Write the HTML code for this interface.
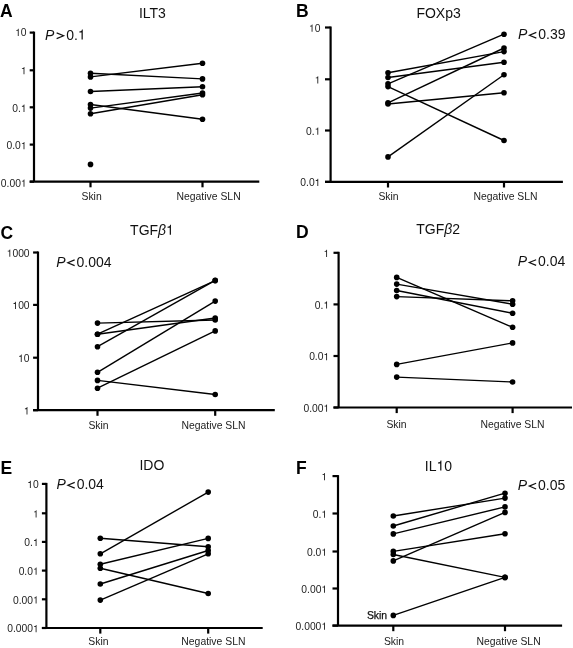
<!DOCTYPE html>
<html><head><meta charset="utf-8"><style>
html,body{margin:0;padding:0;background:#fff;}
body{width:573px;height:648px;overflow:hidden;}
svg{display:block;will-change:transform;}
text{font-family:"Liberation Sans", sans-serif;fill:#111;}
.lt{font-weight:bold;font-size:17.5px;fill:#000;}
.tt{font-size:14px;}
.pv{font-size:14px;}
.yl{font-size:10.3px;fill:#222;}
.xl{font-size:10.4px;fill:#222;}
.ax{stroke:#000;stroke-width:2.2;fill:none;}
.dl{stroke:#000;stroke-width:1.4;fill:none;}
circle{fill:#000;}
.h{fill-opacity:0;}
</style></head><body>
<svg width="573" height="648" viewBox="0 0 573 648">
<text x="0.0" y="16.8" class="lt">A</text>
<text x="152.4" y="17.7" class="tt" text-anchor="middle">ILT3</text>
<text x="45.0" y="39.5" class="pv"><tspan font-style="italic">P</tspan><tspan dx="1.2"><tspan class="h">&gt;</tspan></tspan><tspan dx="2.5">0.<tspan class="h">1</tspan></tspan></text>
<path d="M34.0 31.6V181.7" class="ax"/>
<path d="M29.7 181.7H259.3" class="ax"/>
<path d="M29.7 32.6H34.0" class="ax"/>
<text x="26.6" y="36.00" class="yl" text-anchor="end"><tspan class="h">1</tspan>0</text>
<path d="M29.7 70.3H34.0" class="ax"/>
<text x="26.6" y="74.20" class="yl" text-anchor="end"><tspan class="h">1</tspan></text>
<path d="M29.7 107.3H34.0" class="ax"/>
<text x="26.6" y="111.90" class="yl" text-anchor="end">0.<tspan class="h">1</tspan></text>
<path d="M29.7 144.6H34.0" class="ax"/>
<text x="26.6" y="149.30" class="yl" text-anchor="end">0.0<tspan class="h">1</tspan></text>
<path d="M29.7 181.7H34.0" class="ax"/>
<text x="26.6" y="186.80" class="yl" text-anchor="end">0.00<tspan class="h">1</tspan></text>
<path d="M90.5 181.7V187.29999999999998" class="ax"/>
<path d="M202.5 181.7V187.29999999999998" class="ax"/>
<text x="91.6" y="199.9" class="xl" text-anchor="middle">Skin</text>
<text x="208.6" y="199.9" class="xl" text-anchor="middle">Negative SLN</text>
<path d="M90.5 73.3L202.5 78.9" class="dl"/>
<path d="M90.5 76.9L202.5 63.3" class="dl"/>
<path d="M90.5 91.5L202.5 86.7" class="dl"/>
<path d="M90.5 104.5L202.5 119.3" class="dl"/>
<path d="M90.5 108.1L202.5 93.0" class="dl"/>
<path d="M90.5 113.8L202.5 94.8" class="dl"/>
<circle cx="90.5" cy="73.3" r="2.8"/>
<circle cx="202.5" cy="78.9" r="2.8"/>
<circle cx="90.5" cy="76.9" r="2.8"/>
<circle cx="202.5" cy="63.3" r="2.8"/>
<circle cx="90.5" cy="91.5" r="2.8"/>
<circle cx="202.5" cy="86.7" r="2.8"/>
<circle cx="90.5" cy="104.5" r="2.8"/>
<circle cx="202.5" cy="119.3" r="2.8"/>
<circle cx="90.5" cy="108.1" r="2.8"/>
<circle cx="202.5" cy="93.0" r="2.8"/>
<circle cx="90.5" cy="113.8" r="2.8"/>
<circle cx="202.5" cy="94.8" r="2.8"/>
<circle cx="90.5" cy="164.4" r="2.8"/>
<text x="296.0" y="17.0" class="lt">B</text>
<text x="438.6" y="17.9" class="tt" text-anchor="middle">FOXp3</text>
<text x="518.0" y="39.0" class="pv"><tspan font-style="italic">P</tspan><tspan dx="1.2"><tspan class="h">&lt;</tspan></tspan><tspan dx="1.5">0.39</tspan></text>
<path d="M330.6 26.5V181.9" class="ax"/>
<path d="M325.0 181.9H562.9" class="ax"/>
<path d="M325.0 27.5H330.6" class="ax"/>
<text x="320.4" y="31.70" class="yl" text-anchor="end"><tspan class="h">1</tspan>0</text>
<path d="M325.0 79.3H330.6" class="ax"/>
<text x="320.4" y="83.50" class="yl" text-anchor="end"><tspan class="h">1</tspan></text>
<path d="M325.0 130.5H330.6" class="ax"/>
<text x="320.4" y="134.70" class="yl" text-anchor="end">0.<tspan class="h">1</tspan></text>
<path d="M325.0 181.9H330.6" class="ax"/>
<text x="320.4" y="186.10" class="yl" text-anchor="end">0.0<tspan class="h">1</tspan></text>
<path d="M388.0 181.9V187.5" class="ax"/>
<path d="M504.0 181.9V187.5" class="ax"/>
<text x="388.5" y="199.9" class="xl" text-anchor="middle">Skin</text>
<text x="505.5" y="199.9" class="xl" text-anchor="middle">Negative SLN</text>
<path d="M388.0 72.7L504.0 51.6" class="dl"/>
<path d="M388.0 77.5L504.0 62.2" class="dl"/>
<path d="M388.0 83.8L504.0 34.2" class="dl"/>
<path d="M388.0 86.6L504.0 140.5" class="dl"/>
<path d="M388.0 102.8L504.0 48.0" class="dl"/>
<path d="M388.0 104.0L504.0 92.8" class="dl"/>
<path d="M388.0 156.9L504.0 74.7" class="dl"/>
<circle cx="388.0" cy="72.7" r="2.8"/>
<circle cx="504.0" cy="51.6" r="2.8"/>
<circle cx="388.0" cy="77.5" r="2.8"/>
<circle cx="504.0" cy="62.2" r="2.8"/>
<circle cx="388.0" cy="83.8" r="2.8"/>
<circle cx="504.0" cy="34.2" r="2.8"/>
<circle cx="388.0" cy="86.6" r="2.8"/>
<circle cx="504.0" cy="140.5" r="2.8"/>
<circle cx="388.0" cy="102.8" r="2.8"/>
<circle cx="504.0" cy="48.0" r="2.8"/>
<circle cx="388.0" cy="104.0" r="2.8"/>
<circle cx="504.0" cy="92.8" r="2.8"/>
<circle cx="388.0" cy="156.9" r="2.8"/>
<circle cx="504.0" cy="74.7" r="2.8"/>
<text x="0.5" y="238.7" class="lt">C</text>
<text x="152.0" y="234.7" class="tt" text-anchor="middle">TGF<tspan font-style="italic">β</tspan><tspan class="h">1</tspan></text>
<text x="56.3" y="266.5" class="pv"><tspan font-style="italic">P</tspan><tspan dx="1.2"><tspan class="h">&lt;</tspan></tspan><tspan dx="1.5">0.004</tspan></text>
<path d="M38.0 251.5V410.2" class="ax"/>
<path d="M33.1 410.2H274.8" class="ax"/>
<path d="M33.1 252.5H38.0" class="ax"/>
<text x="29.6" y="256.70" class="yl" text-anchor="end"><tspan class="h">1</tspan>000</text>
<path d="M33.1 304.9H38.0" class="ax"/>
<text x="29.6" y="309.10" class="yl" text-anchor="end"><tspan class="h">1</tspan>00</text>
<path d="M33.1 357.7H38.0" class="ax"/>
<text x="29.6" y="361.90" class="yl" text-anchor="end"><tspan class="h">1</tspan>0</text>
<path d="M33.1 410.2H38.0" class="ax"/>
<text x="29.6" y="414.40" class="yl" text-anchor="end"><tspan class="h">1</tspan></text>
<path d="M97.5 410.2V415.8" class="ax"/>
<path d="M215.2 410.2V415.8" class="ax"/>
<text x="98.5" y="428.6" class="xl" text-anchor="middle">Skin</text>
<text x="213.5" y="428.6" class="xl" text-anchor="middle">Negative SLN</text>
<path d="M97.5 323.1L215.2 320.0" class="dl"/>
<path d="M97.5 334.2L215.2 318.0" class="dl"/>
<path d="M97.5 334.2L215.2 280.6" class="dl"/>
<path d="M97.5 346.7L215.2 280.4" class="dl"/>
<path d="M97.5 372.3L215.2 301.1" class="dl"/>
<path d="M97.5 380.4L215.2 394.5" class="dl"/>
<path d="M97.5 388.2L215.2 330.9" class="dl"/>
<circle cx="97.5" cy="323.1" r="2.8"/>
<circle cx="215.2" cy="320.0" r="2.8"/>
<circle cx="97.5" cy="334.2" r="2.8"/>
<circle cx="215.2" cy="318.0" r="2.8"/>
<circle cx="97.5" cy="334.2" r="2.8"/>
<circle cx="215.2" cy="280.6" r="2.8"/>
<circle cx="97.5" cy="346.7" r="2.8"/>
<circle cx="215.2" cy="280.4" r="2.8"/>
<circle cx="97.5" cy="372.3" r="2.8"/>
<circle cx="215.2" cy="301.1" r="2.8"/>
<circle cx="97.5" cy="380.4" r="2.8"/>
<circle cx="215.2" cy="394.5" r="2.8"/>
<circle cx="97.5" cy="388.2" r="2.8"/>
<circle cx="215.2" cy="330.9" r="2.8"/>
<text x="296.0" y="238.4" class="lt">D</text>
<text x="438.2" y="234.3" class="tt" text-anchor="middle">TGF<tspan font-style="italic">β</tspan>2</text>
<text x="517.8" y="266.3" class="pv"><tspan font-style="italic">P</tspan><tspan dx="1.2"><tspan class="h">&lt;</tspan></tspan><tspan dx="1.5">0.04</tspan></text>
<path d="M338.6 251.8V407.5" class="ax"/>
<path d="M333.5 407.5H572.0" class="ax"/>
<path d="M333.5 252.8H338.6" class="ax"/>
<text x="329.2" y="257.00" class="yl" text-anchor="end"><tspan class="h">1</tspan></text>
<path d="M333.5 304.4H338.6" class="ax"/>
<text x="329.2" y="308.60" class="yl" text-anchor="end">0.<tspan class="h">1</tspan></text>
<path d="M333.5 356.0H338.6" class="ax"/>
<text x="329.2" y="360.20" class="yl" text-anchor="end">0.0<tspan class="h">1</tspan></text>
<path d="M333.5 407.5H338.6" class="ax"/>
<text x="329.2" y="411.70" class="yl" text-anchor="end">0.00<tspan class="h">1</tspan></text>
<path d="M396.7 407.5V413.1" class="ax"/>
<path d="M512.6 407.5V413.1" class="ax"/>
<text x="396.5" y="428.4" class="xl" text-anchor="middle">Skin</text>
<text x="512.5" y="428.4" class="xl" text-anchor="middle">Negative SLN</text>
<path d="M396.7 277.4L512.6 327.3" class="dl"/>
<path d="M396.7 284.1L512.6 304.2" class="dl"/>
<path d="M396.7 290.5L512.6 313.2" class="dl"/>
<path d="M396.7 296.6L512.6 300.8" class="dl"/>
<path d="M396.7 364.4L512.6 342.9" class="dl"/>
<path d="M396.7 377.1L512.6 382.0" class="dl"/>
<circle cx="396.7" cy="277.4" r="2.8"/>
<circle cx="512.6" cy="327.3" r="2.8"/>
<circle cx="396.7" cy="284.1" r="2.8"/>
<circle cx="512.6" cy="304.2" r="2.8"/>
<circle cx="396.7" cy="290.5" r="2.8"/>
<circle cx="512.6" cy="313.2" r="2.8"/>
<circle cx="396.7" cy="296.6" r="2.8"/>
<circle cx="512.6" cy="300.8" r="2.8"/>
<circle cx="396.7" cy="364.4" r="2.8"/>
<circle cx="512.6" cy="342.9" r="2.8"/>
<circle cx="396.7" cy="377.1" r="2.8"/>
<circle cx="512.6" cy="382.0" r="2.8"/>
<text x="0.5" y="474.4" class="lt">E</text>
<text x="151.9" y="470.4" class="tt" text-anchor="middle">IDO</text>
<text x="56.4" y="489.0" class="pv"><tspan font-style="italic">P</tspan><tspan dx="1.2"><tspan class="h">&lt;</tspan></tspan><tspan dx="1.5">0.04</tspan></text>
<path d="M46.4 482.9V628.0" class="ax"/>
<path d="M41.9 628.0H262.7" class="ax"/>
<path d="M41.9 483.9H46.4" class="ax"/>
<text x="38.7" y="488.10" class="yl" text-anchor="end"><tspan class="h">1</tspan>0</text>
<path d="M41.9 513.3H46.4" class="ax"/>
<text x="38.7" y="517.50" class="yl" text-anchor="end"><tspan class="h">1</tspan></text>
<path d="M41.9 541.9H46.4" class="ax"/>
<text x="38.7" y="546.10" class="yl" text-anchor="end">0.<tspan class="h">1</tspan></text>
<path d="M41.9 570.6H46.4" class="ax"/>
<text x="38.7" y="574.80" class="yl" text-anchor="end">0.0<tspan class="h">1</tspan></text>
<path d="M41.9 599.3H46.4" class="ax"/>
<text x="38.7" y="603.50" class="yl" text-anchor="end">0.00<tspan class="h">1</tspan></text>
<path d="M41.9 628.0H46.4" class="ax"/>
<text x="38.7" y="632.20" class="yl" text-anchor="end">0.000<tspan class="h">1</tspan></text>
<path d="M100.3 628.0V633.6" class="ax"/>
<path d="M208.2 628.0V633.6" class="ax"/>
<text x="98.4" y="645.4" class="xl" text-anchor="middle">Skin</text>
<text x="213.4" y="645.4" class="xl" text-anchor="middle">Negative SLN</text>
<path d="M100.3 538.3L208.2 546.7" class="dl"/>
<path d="M100.3 553.8L208.2 492.1" class="dl"/>
<path d="M100.3 564.3L208.2 538.4" class="dl"/>
<path d="M100.3 568.2L208.2 593.5" class="dl"/>
<path d="M100.3 584.0L208.2 550.5" class="dl"/>
<path d="M100.3 600.1L208.2 553.8" class="dl"/>
<circle cx="100.3" cy="538.3" r="2.8"/>
<circle cx="208.2" cy="546.7" r="2.8"/>
<circle cx="100.3" cy="553.8" r="2.8"/>
<circle cx="208.2" cy="492.1" r="2.8"/>
<circle cx="100.3" cy="564.3" r="2.8"/>
<circle cx="208.2" cy="538.4" r="2.8"/>
<circle cx="100.3" cy="568.2" r="2.8"/>
<circle cx="208.2" cy="593.5" r="2.8"/>
<circle cx="100.3" cy="584.0" r="2.8"/>
<circle cx="208.2" cy="550.5" r="2.8"/>
<circle cx="100.3" cy="600.1" r="2.8"/>
<circle cx="208.2" cy="553.8" r="2.8"/>
<text x="296.0" y="474.0" class="lt">F</text>
<text x="438.5" y="470.5" class="tt" text-anchor="middle">IL<tspan class="h">1</tspan>0</text>
<text x="517.8" y="489.9" class="pv"><tspan font-style="italic">P</tspan><tspan dx="1.2"><tspan class="h">&lt;</tspan></tspan><tspan dx="1.5">0.05</tspan></text>
<path d="M338.0 475.1V625.6" class="ax"/>
<path d="M332.5 625.6H562.1" class="ax"/>
<path d="M332.5 476.1H338.0" class="ax"/>
<text x="327.1" y="480.30" class="yl" text-anchor="end"><tspan class="h">1</tspan></text>
<path d="M332.5 513.5H338.0" class="ax"/>
<text x="327.1" y="517.70" class="yl" text-anchor="end">0.<tspan class="h">1</tspan></text>
<path d="M332.5 551.5H338.0" class="ax"/>
<text x="327.1" y="555.70" class="yl" text-anchor="end">0.0<tspan class="h">1</tspan></text>
<path d="M332.5 588.5H338.0" class="ax"/>
<text x="327.1" y="592.70" class="yl" text-anchor="end">0.00<tspan class="h">1</tspan></text>
<path d="M332.5 625.6H338.0" class="ax"/>
<text x="327.1" y="629.80" class="yl" text-anchor="end">0.000<tspan class="h">1</tspan></text>
<path d="M393.3 625.6V631.2" class="ax"/>
<path d="M505.0 625.6V631.2" class="ax"/>
<text x="394.0" y="645.3" class="xl" text-anchor="middle">Skin</text>
<text x="508.6" y="645.3" class="xl" text-anchor="middle">Negative SLN</text>
<path d="M393.3 516.0L505.0 498.1" class="dl"/>
<path d="M393.3 526.0L505.0 493.2" class="dl"/>
<path d="M393.3 533.9L505.0 506.9" class="dl"/>
<path d="M393.3 551.4L505.0 533.7" class="dl"/>
<path d="M393.3 560.9L505.0 512.4" class="dl"/>
<path d="M393.3 554.5L505.0 577.4" class="dl"/>
<path d="M393.3 615.4L505.0 577.4" class="dl"/>
<circle cx="393.3" cy="516.0" r="2.8"/>
<circle cx="505.0" cy="498.1" r="2.8"/>
<circle cx="393.3" cy="526.0" r="2.8"/>
<circle cx="505.0" cy="493.2" r="2.8"/>
<circle cx="393.3" cy="533.9" r="2.8"/>
<circle cx="505.0" cy="506.9" r="2.8"/>
<circle cx="393.3" cy="551.4" r="2.8"/>
<circle cx="505.0" cy="533.7" r="2.8"/>
<circle cx="393.3" cy="560.9" r="2.8"/>
<circle cx="505.0" cy="512.4" r="2.8"/>
<circle cx="393.3" cy="554.5" r="2.8"/>
<circle cx="505.0" cy="577.4" r="2.8"/>
<circle cx="393.3" cy="615.4" r="2.8"/>
<circle cx="505.0" cy="577.4" r="2.8"/>
<text x="377" y="618.8" class="xl" text-anchor="middle" style="fill:#111;stroke:#111;stroke-width:0.25px">Skin</text>
<path d="M56.64 32.90L63.64 35.70L56.64 38.60" fill="none" stroke="rgb(17, 17, 17)" stroke-width="1.15" stroke-linejoin="miter"/>
<path d="M347 0V709H289C258 600 238 585 102 568V505H259V0Z" transform="matrix(0.01400 0 0 -0.01400 77.92 39.50)" fill="rgb(17, 17, 17)"/>
<path d="M347 0V709H289C258 600 238 585 102 568V505H259V0Z" transform="matrix(0.01030 0 0 -0.01030 15.13 36.00)" fill="rgb(34, 34, 34)"/>
<path d="M347 0V709H289C258 600 238 585 102 568V505H259V0Z" transform="matrix(0.01030 0 0 -0.01030 20.87 74.20)" fill="rgb(34, 34, 34)"/>
<path d="M347 0V709H289C258 600 238 585 102 568V505H259V0Z" transform="matrix(0.01030 0 0 -0.01030 20.87 111.90)" fill="rgb(34, 34, 34)"/>
<path d="M347 0V709H289C258 600 238 585 102 568V505H259V0Z" transform="matrix(0.01030 0 0 -0.01030 20.87 149.30)" fill="rgb(34, 34, 34)"/>
<path d="M347 0V709H289C258 600 238 585 102 568V505H259V0Z" transform="matrix(0.01030 0 0 -0.01030 20.87 186.80)" fill="rgb(34, 34, 34)"/>
<path d="M536.34 32.40L529.44 35.20L536.34 38.10" fill="none" stroke="rgb(17, 17, 17)" stroke-width="1.15" stroke-linejoin="miter"/>
<path d="M347 0V709H289C258 600 238 585 102 568V505H259V0Z" transform="matrix(0.01030 0 0 -0.01030 308.93 31.70)" fill="rgb(34, 34, 34)"/>
<path d="M347 0V709H289C258 600 238 585 102 568V505H259V0Z" transform="matrix(0.01030 0 0 -0.01030 314.67 83.50)" fill="rgb(34, 34, 34)"/>
<path d="M347 0V709H289C258 600 238 585 102 568V505H259V0Z" transform="matrix(0.01030 0 0 -0.01030 314.67 134.70)" fill="rgb(34, 34, 34)"/>
<path d="M347 0V709H289C258 600 238 585 102 568V505H259V0Z" transform="matrix(0.01030 0 0 -0.01030 314.67 186.10)" fill="rgb(34, 34, 34)"/>
<path d="M347 0V709H289C258 600 238 585 102 568V505H259V0Z" transform="matrix(0.01400 0 0 -0.01400 166.10 234.70)" fill="rgb(17, 17, 17)"/>
<path d="M74.64 259.90L67.74 262.70L74.64 265.60" fill="none" stroke="rgb(17, 17, 17)" stroke-width="1.15" stroke-linejoin="miter"/>
<path d="M347 0V709H289C258 600 238 585 102 568V505H259V0Z" transform="matrix(0.01030 0 0 -0.01030 6.68 256.70)" fill="rgb(34, 34, 34)"/>
<path d="M347 0V709H289C258 600 238 585 102 568V505H259V0Z" transform="matrix(0.01030 0 0 -0.01030 12.40 309.10)" fill="rgb(34, 34, 34)"/>
<path d="M347 0V709H289C258 600 238 585 102 568V505H259V0Z" transform="matrix(0.01030 0 0 -0.01030 18.13 361.90)" fill="rgb(34, 34, 34)"/>
<path d="M347 0V709H289C258 600 238 585 102 568V505H259V0Z" transform="matrix(0.01030 0 0 -0.01030 23.87 414.40)" fill="rgb(34, 34, 34)"/>
<path d="M536.14 259.70L529.24 262.50L536.14 265.40" fill="none" stroke="rgb(17, 17, 17)" stroke-width="1.15" stroke-linejoin="miter"/>
<path d="M347 0V709H289C258 600 238 585 102 568V505H259V0Z" transform="matrix(0.01030 0 0 -0.01030 323.47 257.00)" fill="rgb(34, 34, 34)"/>
<path d="M347 0V709H289C258 600 238 585 102 568V505H259V0Z" transform="matrix(0.01030 0 0 -0.01030 323.47 308.60)" fill="rgb(34, 34, 34)"/>
<path d="M347 0V709H289C258 600 238 585 102 568V505H259V0Z" transform="matrix(0.01030 0 0 -0.01030 323.47 360.20)" fill="rgb(34, 34, 34)"/>
<path d="M347 0V709H289C258 600 238 585 102 568V505H259V0Z" transform="matrix(0.01030 0 0 -0.01030 323.47 411.70)" fill="rgb(34, 34, 34)"/>
<path d="M74.74 482.40L67.84 485.20L74.74 488.10" fill="none" stroke="rgb(17, 17, 17)" stroke-width="1.15" stroke-linejoin="miter"/>
<path d="M347 0V709H289C258 600 238 585 102 568V505H259V0Z" transform="matrix(0.01030 0 0 -0.01030 27.23 488.10)" fill="rgb(34, 34, 34)"/>
<path d="M347 0V709H289C258 600 238 585 102 568V505H259V0Z" transform="matrix(0.01030 0 0 -0.01030 32.97 517.50)" fill="rgb(34, 34, 34)"/>
<path d="M347 0V709H289C258 600 238 585 102 568V505H259V0Z" transform="matrix(0.01030 0 0 -0.01030 32.97 546.10)" fill="rgb(34, 34, 34)"/>
<path d="M347 0V709H289C258 600 238 585 102 568V505H259V0Z" transform="matrix(0.01030 0 0 -0.01030 32.97 574.80)" fill="rgb(34, 34, 34)"/>
<path d="M347 0V709H289C258 600 238 585 102 568V505H259V0Z" transform="matrix(0.01030 0 0 -0.01030 32.97 603.50)" fill="rgb(34, 34, 34)"/>
<path d="M347 0V709H289C258 600 238 585 102 568V505H259V0Z" transform="matrix(0.01030 0 0 -0.01030 32.97 632.20)" fill="rgb(34, 34, 34)"/>
<path d="M347 0V709H289C258 600 238 585 102 568V505H259V0Z" transform="matrix(0.01400 0 0 -0.01400 436.55 470.50)" fill="rgb(17, 17, 17)"/>
<path d="M536.14 483.30L529.24 486.10L536.14 489.00" fill="none" stroke="rgb(17, 17, 17)" stroke-width="1.15" stroke-linejoin="miter"/>
<path d="M347 0V709H289C258 600 238 585 102 568V505H259V0Z" transform="matrix(0.01030 0 0 -0.01030 321.37 480.30)" fill="rgb(34, 34, 34)"/>
<path d="M347 0V709H289C258 600 238 585 102 568V505H259V0Z" transform="matrix(0.01030 0 0 -0.01030 321.37 517.70)" fill="rgb(34, 34, 34)"/>
<path d="M347 0V709H289C258 600 238 585 102 568V505H259V0Z" transform="matrix(0.01030 0 0 -0.01030 321.37 555.70)" fill="rgb(34, 34, 34)"/>
<path d="M347 0V709H289C258 600 238 585 102 568V505H259V0Z" transform="matrix(0.01030 0 0 -0.01030 321.37 592.70)" fill="rgb(34, 34, 34)"/>
<path d="M347 0V709H289C258 600 238 585 102 568V505H259V0Z" transform="matrix(0.01030 0 0 -0.01030 321.37 629.80)" fill="rgb(34, 34, 34)"/>

</svg>
</body></html>
